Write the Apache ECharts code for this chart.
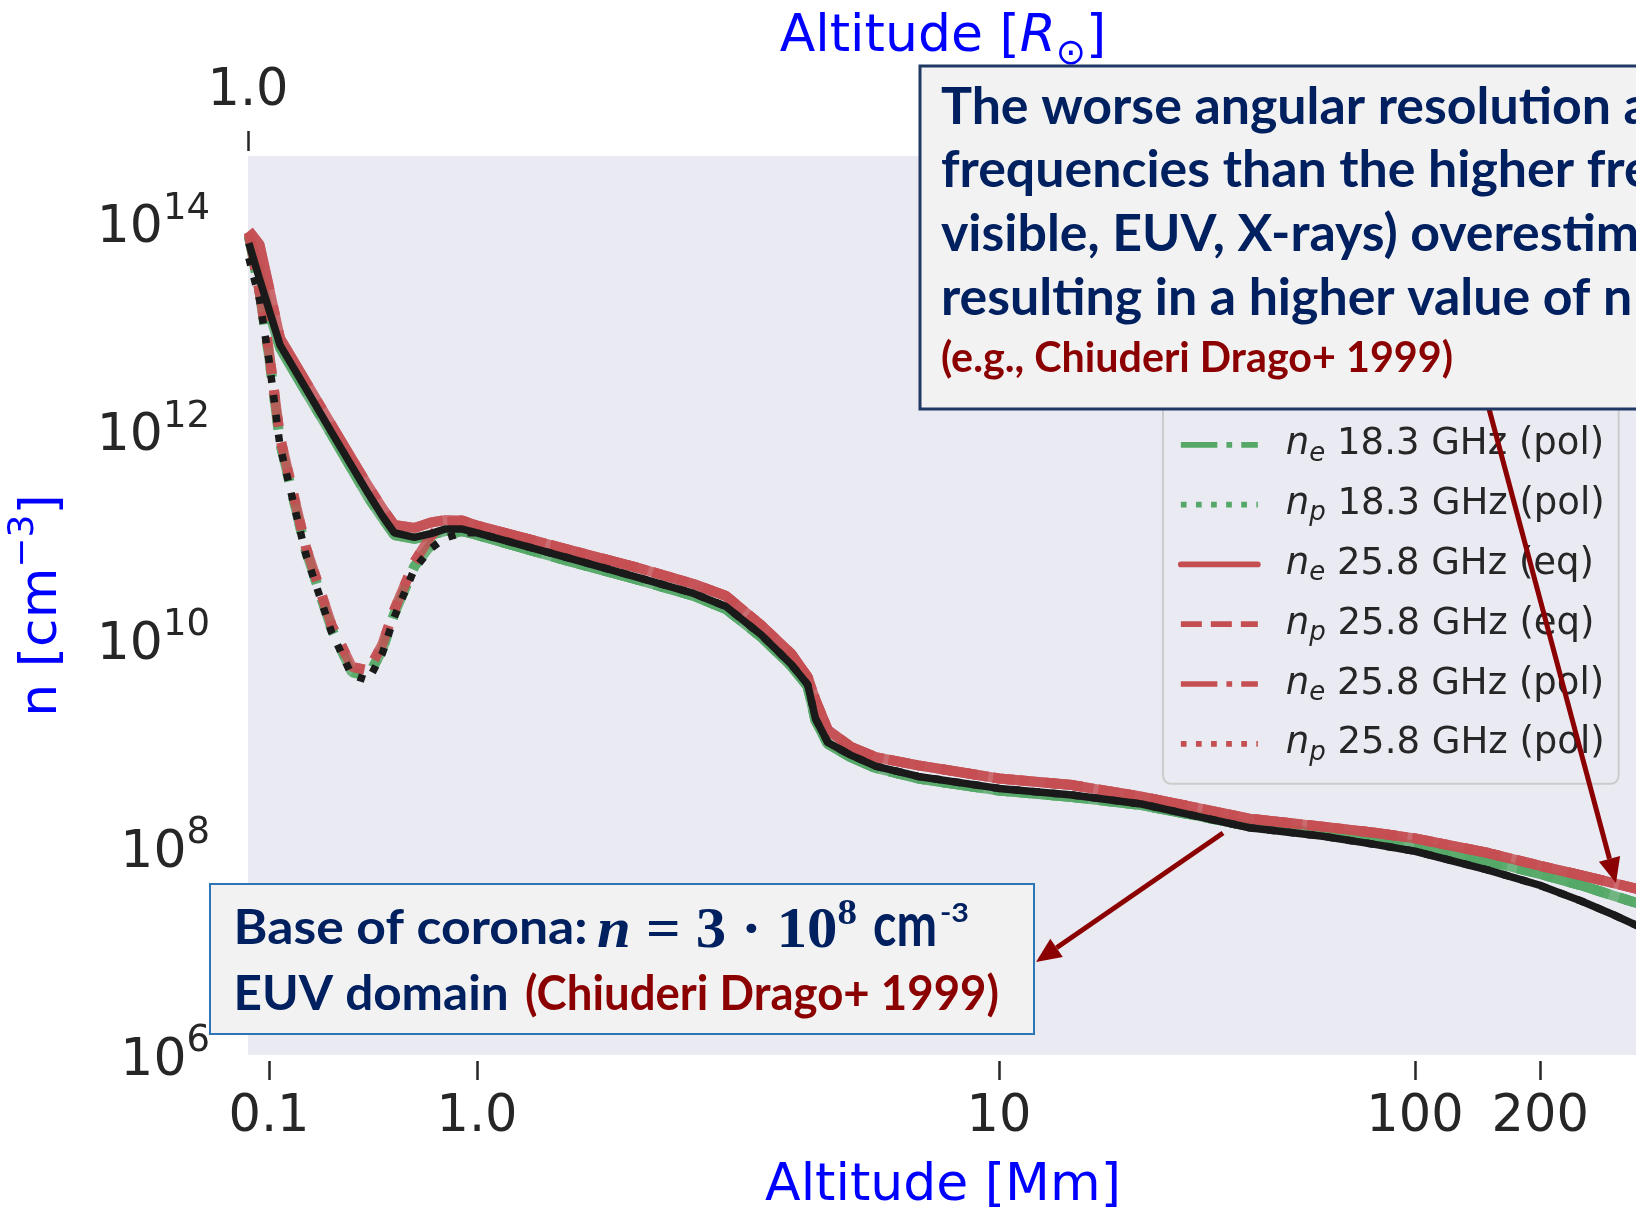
<!DOCTYPE html>
<html>
<head>
<meta charset="utf-8">
<script src="https://cdn.jsdelivr.net/npm/echarts@6/dist/echarts.min.js"></script>
<style>
  html, body { margin: 0; padding: 0; background: #ffffff; }
  #chart { width: 1636px; height: 1212px; }
</style>
</head>
<body>
<div id="chart"></div>
<script>
// ---- data: density profiles versus altitude (Mm) ----
const altitudeMm = [0.08, 0.09, 0.1, 0.113, 0.15, 0.2, 0.25, 0.3, 0.35, 0.4, 0.5, 0.6, 0.7, 0.85,
  1.0, 1.5, 2.0, 2.6, 3.0, 3.5, 4.0, 4.3, 4.45, 4.7, 5.2, 5.8, 7.0, 10, 15, 22, 30, 40, 60, 80,
  100, 150, 200, 250, 300, 350, 400];

const green18Ne = [7.5e13, 3.4e13, 1.4e13, 6.3e12, 2.4e12, 9.2e11, 4.3e11, 2.3e11, 1.46e11, 1.0e11, 9.2e10, 1.0e11, 1.09e11, 1.09e11,
  1.0e11, 5.6e10, 3.8e10, 2.6e10, 1.94e10, 1.05e10, 5.5e9, 3.5e9, 1.66e9, 9.8e8, 7.3e8, 5.75e8, 4.56e8, 3.49e8, 3.03e8, 2.53e8, 1.99e8, 1.59e8, 1.36e8, 1.19e8,
  1.03e8, 7.3e7, 5.5e7, 4.3e7, 3.4e7, 2.8e7, 2.4e7];
const green18Np = [7.5e13, 2.2e13, 5.3e12, 7.8e11, 7.2e10, 1.25e10, 4.8e9, 4.4e9, 7.8e9, 1.74e10, 5.0e10, 8.0e10, 1.0e11, 1.09e11,
  1.0e11, 5.6e10, 3.8e10, 2.6e10, 1.94e10, 1.05e10, 5.5e9, 3.5e9, 1.66e9, 9.8e8, 7.3e8, 5.75e8, 4.56e8, 3.49e8, 3.03e8, 2.53e8, 1.99e8, 1.59e8, 1.36e8, 1.19e8,
  1.03e8, 7.3e7, 5.5e7, 4.3e7, 3.4e7, 2.8e7, 2.4e7];
const red25Ne = [8.4e13, 6.2e13, 2.4e13, 7.8e12, 3.0e12, 1.14e12, 5.4e11, 2.96e11, 1.82e11, 1.25e11, 1.17e11, 1.32e11, 1.39e11, 1.38e11,
  1.23e11, 7.2e10, 4.95e10, 3.38e10, 2.59e10, 1.36e10, 7.2e9, 4.3e9, 2.6e9, 1.33e9, 9.2e8, 7.3e8, 6.1e8, 4.56e8, 3.94e8, 3.05e8, 2.37e8, 1.87e8, 1.57e8, 1.37e8,
  1.21e8, 8.75e7, 6.6e7, 5.36e7, 4.5e7, 3.86e7, 3.38e7];
const red25Np = [8.0e13, 2.2e13, 5.8e12, 8.7e11, 7.8e10, 1.36e10, 5.4e9, 5.0e9, 8.8e9, 1.9e10, 5.5e10, 9.8e10, 1.33e11, 1.36e11,
  1.23e11, 7.2e10, 4.95e10, 3.38e10, 2.59e10, 1.36e10, 7.2e9, 4.3e9, 2.6e9, 1.33e9, 9.2e8, 7.3e8, 6.1e8, 4.56e8, 3.94e8, 3.05e8, 2.37e8, 1.87e8, 1.57e8, 1.37e8,
  1.21e8, 8.75e7, 6.6e7, 5.36e7, 4.5e7, 3.86e7, 3.38e7];
const modelNe = [6.4e13, 2.9e13, 1.47e13, 6.7e12, 2.58e12, 9.7e11, 4.6e11, 2.5e11, 1.53e11, 1.05e11, 9.5e10, 1.03e11, 1.14e11, 1.14e11,
  1.05e11, 6.0e10, 4.0e10, 2.74e10, 2.05e10, 1.10e10, 5.7e9, 3.65e9, 1.72e9, 1.01e9, 7.65e8, 6.0e8, 4.77e8, 3.66e8, 3.16e8, 2.59e8, 1.97e8, 1.53e8, 1.27e8, 1.06e8,
  9.1e7, 6.0e7, 4.27e7, 3.04e7, 2.23e7, 1.68e7, 1.32e7];
const modelNp = [4.6e13, 1.86e13, 4.8e12, 7.1e11, 6.6e10, 1.16e10, 4.5e9, 4.0e9, 7.2e9, 1.62e10, 4.7e10, 7.4e10, 9.35e10, 1.05e11,
  1.05e11, 6.0e10, 4.0e10, 2.74e10, 2.05e10, 1.10e10, 5.7e9, 3.65e9, 1.72e9, 1.01e9, 7.65e8, 6.0e8, 4.77e8, 3.66e8, 3.16e8, 2.59e8, 1.97e8, 1.53e8, 1.27e8, 1.06e8,
  9.1e7, 6.0e7, 4.27e7, 3.04e7, 2.23e7, 1.68e7, 1.32e7];

// tick labels
const xTickValues = [0.1, 1, 10, 100, 200];
const xTickLabels = ['0.1', '1.0', '10', '100', '200'];
const topTickLabels = ['1.0'];
const yTickExponents = [6, 8, 10, 12, 14];

// ---- horizontal scale: piecewise-linear in log10(altitude) ----
const xScaleKnots = { logs: [-2, -1, 0, 1, 4], units: [-1.0, -0.5, 0, 1.2548, 4.2548] };
function toAxisUnit(alt) {
  const L = Math.log10(alt);
  const k = xScaleKnots;
  let i = 0;
  while (i < k.logs.length - 2 && L > k.logs[i + 1]) i++;
  const t = (L - k.logs[i]) / (k.logs[i + 1] - k.logs[i]);
  return k.units[i] + t * (k.units[i + 1] - k.units[i]);
}
const X_MIN_U = -0.5505;
const X_MAX_U = 2.7909;
const Y_MIN = 1e6;
const Y_MAX = Math.pow(10, 14.644);
const xTickU = xTickValues.map(toAxisUnit);

const GREEN = '#55A868';
const RED = '#C44E52';
const NAVY = '#002060';
const DARKRED = '#8B0000';
const INK = '#262626';

// dash patterns for the plotted lines and for the legend samples
const plotDash = { solid: 'solid', dashed: [37, 16], dashdot: [64, 16, 10, 16], dotted: [10, 16.5] };
const legendDash = { solid: 'solid', dashed: [21, 9], dashdot: [36.5, 9.1, 5.7, 9.1], dotted: [5.7, 9.4] };

const colouredDefs = [
  { name: 'n_e 18.3 GHz (eq)', values: green18Ne, color: GREEN, dash: 'solid' },
  { name: 'n_p 18.3 GHz (eq)', values: green18Np, color: GREEN, dash: 'dashed' },
  { name: 'n_e 18.3 GHz (pol)', values: green18Ne, color: GREEN, dash: 'dashdot' },
  { name: 'n_p 18.3 GHz (pol)', values: green18Np, color: GREEN, dash: 'dotted' },
  { name: 'n_e 25.8 GHz (eq)', values: red25Ne, color: RED, dash: 'solid' },
  { name: 'n_p 25.8 GHz (eq)', values: red25Np, color: RED, dash: 'dashed' },
  { name: 'n_e 25.8 GHz (pol)', values: red25Ne, color: RED, dash: 'dashdot' },
  { name: 'n_p 25.8 GHz (pol)', values: red25Np, color: RED, dash: 'dotted' }
];

function pairs(values) {
  return altitudeMm.map((a, i) => [toAxisUnit(a), values[i]]);
}

const series = colouredDefs.map(d => ({
  name: d.name, type: 'line', data: pairs(d.values), color: d.color,
  showSymbol: false, symbol: 'none', silent: true, animation: false,
  lineStyle: { color: d.color, width: 10, type: plotDash[d.dash], opacity: 0.82 }
}));
series.push({
  name: 'n_e profile', type: 'line', data: pairs(modelNe), color: '#1a1a1a',
  showSymbol: false, symbol: 'none', silent: true, animation: false,
  lineStyle: { color: '#1a1a1a', width: 7.5, type: 'solid' }
});
series.push({
  name: 'n_p profile', type: 'line', data: pairs(modelNp), color: '#1a1a1a',
  showSymbol: false, symbol: 'none', silent: true, animation: false,
  lineStyle: { color: '#1a1a1a', width: 7.5, type: [7.5, 12.4] }
});

// ---- text fitting helper for the annotation boxes ----
const measureCtx = document.createElement('canvas').getContext('2d');
function textWidth(str, font) { measureCtx.font = font; return measureCtx.measureText(str).width; }

const boxFont = 'bold 52px Lato';
const boxScale = 670 / textWidth('The worse angular resolution', boxFont);
const refFont = 'bold 42px Lato';
const refScale = 512 / textWidth('(e.g., Chiuderi Drago+ 1999)', refFont);
const baseFont = 'bold 47px Lato';
const unitFont = 'bold 62px Lato';

function boxText(str, x, y, font, color, scale, z) {
  return { type: 'text', x: x, y: y, scaleX: scale, z: z || 110, silent: true,
    style: { text: str, font: font, fill: color, align: 'left', verticalAlign: 'middle' } };
}

const mathParts = [
  { text: 'n', font: 'italic bold 56px "Liberation Serif"' },
  { text: ' = 3 · 10', font: 'bold 56px "Liberation Serif"' },
  { text: '8', font: 'bold 36px "Liberation Serif"' }
];
const mathWidth = mathParts.reduce((s, p) => s + textWidth(p.text, p.font), 0);

const graphics = [
  // arrow towards the high-altitude curves
  { type: 'line', z: 100, silent: true, shape: { x1: 1488, y1: 405, x2: 1609.5, y2: 858.9 },
    style: { stroke: DARKRED, lineWidth: 5 } },
  { type: 'polygon', z: 100, silent: true, shape: { points: [[1616, 883], [1598.9, 861.7], [1620.1, 856.1]] },
    style: { fill: DARKRED } },
  // upper annotation box
  { type: 'rect', z: 105, silent: true, shape: { x: 920, y: 66, width: 800, height: 343 },
    style: { fill: '#F2F2F2', stroke: '#1F3864', lineWidth: 3 } },
  boxText('The worse angular resolution at lower radio', 941, 107, boxFont, NAVY, boxScale),
  boxText('frequencies than the higher frequencies (e.g.,', 941, 170, boxFont, NAVY, boxScale),
  boxText('visible, EUV, X-rays) overestimates the size,', 941, 234, boxFont, NAVY, boxScale),
  boxText('resulting in a higher value of n', 941, 298, boxFont, NAVY, boxScale),
  boxText('(e.g., Chiuderi Drago+ 1999)', 941, 358, refFont, DARKRED, refScale),
  // arrow towards the lower box
  { type: 'line', z: 100, silent: true, shape: { x1: 1223, y1: 833, x2: 1056.6, y2: 947.8 },
    style: { stroke: DARKRED, lineWidth: 5 } },
  { type: 'polygon', z: 100, silent: true, shape: { points: [[1036, 962], [1050.3, 938.7], [1062.8, 956.9]] },
    style: { fill: DARKRED } },
  // lower annotation box
  { type: 'rect', z: 105, silent: true, shape: { x: 210, y: 884, width: 824, height: 150 },
    style: { fill: '#F2F2F2', stroke: '#2E75B6', lineWidth: 2 } },
  boxText('Base of corona:', 233.6, 929, baseFont, NAVY, 354 / textWidth('Base of corona:', baseFont)),
  { type: 'text', x: 597, y: 929, z: 110, silent: true, scaleX: 260 / mathWidth,
    style: { text: '{m|n}{r| = 3 · 10}{s|8}', verticalAlign: 'middle', align: 'left',
      rich: {
        m: { font: mathParts[0].font, fill: NAVY, lineHeight: 64, verticalAlign: 'bottom' },
        r: { font: mathParts[1].font, fill: NAVY, lineHeight: 64, verticalAlign: 'bottom' },
        s: { font: mathParts[2].font, fill: NAVY, lineHeight: 34, verticalAlign: 'top' }
      } } },
  boxText('cm', 873, 926, unitFont, NAVY, 64 / textWidth('cm', unitFont)),
  boxText('-3', 940, 914, 'bold 26px Lato', NAVY, 29 / textWidth('-3', 'bold 26px Lato')),
  boxText('EUV domain', 233.6, 995, baseFont, NAVY, 275 / textWidth('EUV domain', baseFont)),
  boxText('(Chiuderi Drago+ 1999)', 525, 995, baseFont, DARKRED, 474 / textWidth('(Chiuderi Drago+ 1999)', baseFont))
];

const chart = echarts.init(document.getElementById('chart'), null, { renderer: 'canvas' });

chart.setOption({
  animation: false,
  backgroundColor: '#ffffff',
  grid: {
    left: 248, right: -2, top: 156, bottom: 157, show: true, backgroundColor: '#EAEAF2', borderWidth: 0,
    containLabel: false, outerBoundsMode: 'none'
  },
  xAxis: [
    {
      type: 'value', position: 'bottom', min: X_MIN_U, max: X_MAX_U, offset: 6,
      axisLine: { show: false }, splitLine: { show: false },
      axisTick: { show: true, customValues: xTickU, length: 19, lineStyle: { color: INK, width: 2.5 } },
      axisLabel: {
        customValues: xTickU, margin: 31, fontSize: 51, fontFamily: 'DejaVu Sans', color: INK,
        formatter: v => {
          const i = xTickU.findIndex(t => Math.abs(t - v) < 1e-6);
          return i >= 0 ? xTickLabels[i] : '';
        }
      },
      name: 'Altitude [Mm]', nameLocation: 'middle', nameGap: 99,
      nameTextStyle: { fontSize: 52, fontFamily: 'DejaVu Sans', color: '#0000FF' }
    },
    {
      type: 'value', position: 'top', min: X_MIN_U, max: X_MAX_U, offset: 5,
      axisLine: { show: false }, splitLine: { show: false },
      axisTick: { show: true, customValues: [X_MIN_U], length: 20, lineStyle: { color: INK, width: 2.5 } },
      axisLabel: {
        customValues: [X_MIN_U], margin: 34, fontSize: 51, fontFamily: 'DejaVu Sans', color: INK,
        formatter: () => topTickLabels[0]
      },
      name: '{a|Altitude [}{r|R}{s|⊙}{a|]}', nameLocation: 'middle', nameGap: 78, nameMoveOverlap: false,
      nameTextStyle: {
        rich: {
          a: { fontSize: 52, fontFamily: 'DejaVu Sans', color: '#0000FF', lineHeight: 62, verticalAlign: 'top' },
          r: { fontSize: 52, fontFamily: 'DejaVu Sans', fontStyle: 'italic', color: '#0000FF', lineHeight: 62, verticalAlign: 'top' },
          s: { fontSize: 36, fontFamily: 'DejaVu Sans', color: '#0000FF', lineHeight: 44, verticalAlign: 'bottom' }
        }
      }
    }
  ],
  yAxis: {
    type: 'log', logBase: 10, min: Y_MIN, max: Y_MAX,
    axisLine: { show: false }, axisTick: { show: false }, splitLine: { show: false },
    axisLabel: {
      margin: 38,
      formatter: v => {
        const e = Math.log10(v);
        const r = Math.round(e);
        if (Math.abs(e - r) > 1e-6 || yTickExponents.indexOf(r) < 0) return '';
        return '{b|10}{s|' + r + '}';
      },
      rich: {
        b: { fontSize: 52, fontFamily: 'DejaVu Sans', color: INK, lineHeight: 64, verticalAlign: 'bottom' },
        s: { fontSize: 37, fontFamily: 'DejaVu Sans', color: INK, lineHeight: 46, verticalAlign: 'top' }
      }
    },
    name: '{a|n [cm}{s|−3}{a|]}', nameLocation: 'middle', nameRotate: 90, nameGap: 180,
    nameTextStyle: {
      rich: {
        a: { fontSize: 52, fontFamily: 'DejaVu Sans', color: '#0000FF', lineHeight: 62, verticalAlign: 'bottom' },
        s: { fontSize: 36, fontFamily: 'DejaVu Sans', color: '#0000FF', lineHeight: 62, verticalAlign: 'top' }
      }
    }
  },
  legend: {
    data: colouredDefs.map(d => ({
      name: d.name,
      lineStyle: { width: 5.7, type: legendDash[d.dash], cap: d.dash === 'solid' ? 'round' : 'butt', opacity: 1 },
      itemStyle: { opacity: 0 }
    })),
    orient: 'vertical', left: 1163, top: 291.7,
    itemWidth: 77, itemHeight: 14, itemGap: 19.3,
    padding: [15, 14, 18, 15],
    backgroundColor: '#EAEAF2', borderColor: '#CCCCCC', borderWidth: 2, borderRadius: 8,
    selectedMode: false,
    formatter: name => {
      const m = name.match(/^n_(\w) (.*)$/);
      return '{gap| }{i|n}{sub|' + m[1] + '}{t| ' + m[2] + '}';
    },
    textStyle: {
      color: INK,
      rich: {
        gap: { width: 23, fontSize: 37, lineHeight: 44 },
        i: { fontSize: 37, fontStyle: 'italic', fontFamily: 'DejaVu Sans', color: INK, lineHeight: 44 },
        sub: { fontSize: 26, fontStyle: 'italic', fontFamily: 'DejaVu Sans', color: INK, lineHeight: 26, verticalAlign: 'bottom' },
        t: { fontSize: 37, fontFamily: 'DejaVu Sans', color: INK, lineHeight: 44 }
      }
    }
  },
  graphic: graphics,
  series: series
});
</script>
</body>
</html>
